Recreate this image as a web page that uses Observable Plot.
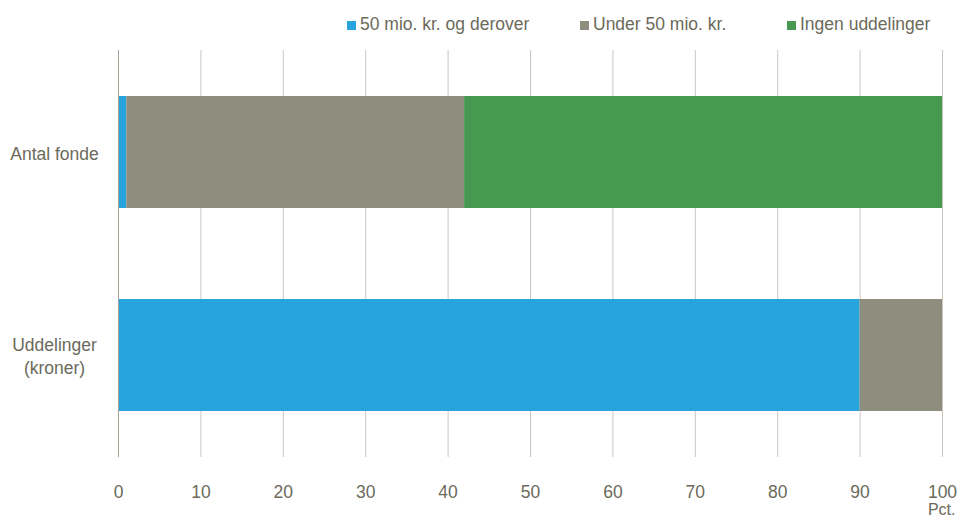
<!DOCTYPE html>
<html>
<head>
<meta charset="utf-8">
<script src="https://cdn.jsdelivr.net/npm/d3@7"></script>
<script src="https://cdn.jsdelivr.net/npm/@observablehq/plot@0.6"></script>
<style>
  body { margin: 0; background: #fff; font-family: "Liberation Sans", Arial, sans-serif; }
  #legend { height: 45px; position: relative; font-size: 17.5px; color: #6b6a5b; }
  .item { position: absolute; top: 14px; display: flex; align-items: center; white-space: nowrap; }
  .sw { width: 9px; height: 9px; margin-right: 4px; margin-top: 1px; }
  svg { display: block; }
</style>
</head>
<body>
<div id="legend"></div>
<div id="chart"></div>
<script>
const categories = ["Antal fonde", "Uddelinger (kroner)"];
const series = ["50 mio. kr. og derover", "Under 50 mio. kr.", "Ingen uddelinger"];
const colors = ["#27a3dd", "#8f8d7e", "#479952"];
const antalFonde = [1, 41, 58];
const uddelinger = [90, 10, 0];
const xTicks = [0, 10, 20, 30, 40, 50, 60, 70, 80, 90, 100];
const legendX = [347, 580, 787];

const data = [];
series.forEach((s, i) => {
  data.push({cat: categories[0], series: s, value: antalFonde[i]});
  data.push({cat: categories[1], series: s, value: uddelinger[i]});
});

const textColor = "#6b6a5b";

const legend = document.getElementById("legend");
series.forEach((s, i) => {
  const d = document.createElement("div");
  d.className = "item";
  d.style.left = legendX[i] + "px";
  d.innerHTML = `<span class="sw" style="background:${colors[i]}"></span><span>${s}</span>`;
  legend.appendChild(d);
});

const chart = Plot.plot({
  width: 960,
  height: 475,
  marginLeft: 118,
  marginRight: 18,
  marginTop: 5,
  marginBottom: 63,
  style: {fontFamily: "Liberation Sans, Arial, sans-serif", fontSize: "17.5px", color: textColor, background: "#fff"},
  x: {domain: [0, 100]},
  y: {domain: categories, paddingInner: 0.446, paddingOuter: 0.223},
  color: {domain: series, range: colors},
  marks: [
    Plot.ruleX(xTicks.filter(d => d !== 0), {stroke: "#c9c7bd", strokeWidth: 1}),
    Plot.barX(data, Plot.stackX({x: "value", y: "cat", fill: "series", order: series})),
    Plot.ruleX([0], {stroke: "#a3a194", strokeWidth: 1}),
    Plot.axisX({ticks: xTicks, tickSize: 0, tickPadding: 28, fontSize: 17.5, fill: textColor, label: null}),
    Plot.text(["Pct."], {frameAnchor: "bottom-right", lineAnchor: "middle", textAnchor: "end", dy: 52, dx: 13, fontSize: 16, fill: textColor}),
    Plot.axisY({tickSize: 0, tickPadding: 64, textAnchor: "middle", fontSize: 17.5, fill: textColor, lineHeight: 1.3, label: null,
      tickFormat: d => d === "Uddelinger (kroner)" ? "Uddelinger\n(kroner)" : d})
  ]
});
document.getElementById("chart").appendChild(chart);
</script>
</body>
</html>
